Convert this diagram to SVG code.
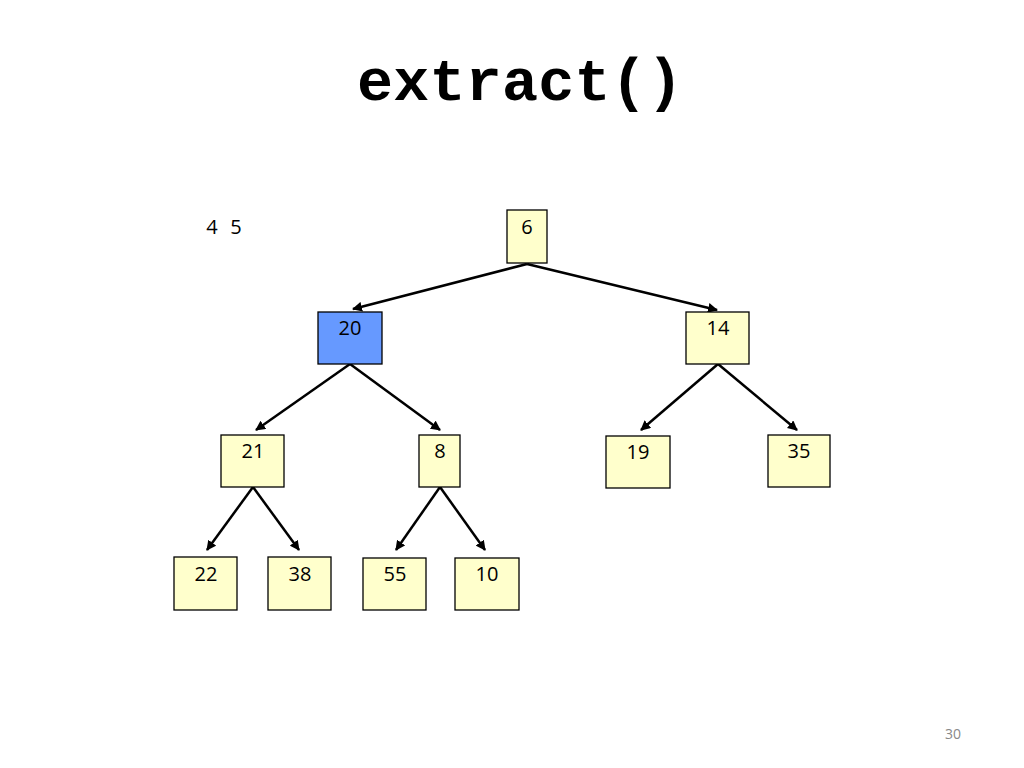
<svg xmlns="http://www.w3.org/2000/svg" width="1024" height="768" viewBox="0 0 1024 768">
<defs>
<style>
.box{fill:#FFFFCC;stroke:#000;stroke-width:1.3}
.hl{fill:#6699FF;stroke:#000;stroke-width:1.3}
.lbl{font-family:"Open Sans","Liberation Sans",sans-serif;font-size:20px;fill:#000;text-anchor:middle}
.edge{stroke:#000;stroke-width:2.5;fill:none;marker-end:url(#arr)}
</style>
<marker id="arr" viewBox="0 0 10 10" refX="9" refY="5" markerWidth="4" markerHeight="4" orient="auto" markerUnits="strokeWidth">
<path d="M0,0 L10,5 L0,10 z" fill="#000"/>
</marker>
</defs>
<rect width="1024" height="768" fill="#fff"/>
<text x="520" y="100" font-family="'Liberation Mono',monospace" font-weight="bold" font-size="60" text-anchor="middle" fill="#000" textLength="326" lengthAdjust="spacing">extract()</text>
<text x="212" y="234" class="lbl">4</text>
<text x="236" y="234" class="lbl">5</text>
<g id="connectors">
<line class="edge" x1="527" y1="264" x2="353" y2="309"/>
<line class="edge" x1="527" y1="264" x2="717" y2="310"/>
<line class="edge" x1="350" y1="364" x2="256" y2="430"/>
<line class="edge" x1="350" y1="364" x2="440" y2="430"/>
<line class="edge" x1="718" y1="364" x2="641" y2="430"/>
<line class="edge" x1="718" y1="364" x2="797" y2="430"/>
<line class="edge" x1="253" y1="487" x2="207" y2="550"/>
<line class="edge" x1="253" y1="487" x2="299" y2="550"/>
<line class="edge" x1="440" y1="487" x2="396" y2="550"/>
<line class="edge" x1="440" y1="487" x2="485" y2="550"/>
</g>
<g id="n6"><rect class="box" x="507" y="210" width="40" height="53"/><text class="lbl" x="527" y="234">6</text></g>
<g id="n20"><rect class="hl" x="318" y="312" width="64" height="52"/><text class="lbl" x="350" y="335">20</text></g>
<g id="n14"><rect class="box" x="686" y="312" width="63" height="52"/><text class="lbl" x="718" y="335">14</text></g>
<g id="n21"><rect class="box" x="221" y="435" width="63" height="52"/><text class="lbl" x="253" y="458">21</text></g>
<g id="n8"><rect class="box" x="419" y="435" width="41" height="52"/><text class="lbl" x="440" y="458">8</text></g>
<g id="n19"><rect class="box" x="606" y="436" width="64" height="52"/><text class="lbl" x="638" y="459">19</text></g>
<g id="n35"><rect class="box" x="768" y="435" width="62" height="52"/><text class="lbl" x="799" y="458">35</text></g>
<g id="n22"><rect class="box" x="174" y="557" width="63" height="53"/><text class="lbl" x="206" y="581">22</text></g>
<g id="n38"><rect class="box" x="268" y="557" width="63" height="53"/><text class="lbl" x="300" y="581">38</text></g>
<g id="n55"><rect class="box" x="363" y="558" width="63" height="52"/><text class="lbl" x="395" y="581">55</text></g>
<g id="n10"><rect class="box" x="455" y="558" width="64" height="52"/><text class="lbl" x="487" y="581">10</text></g>
<text x="953" y="739" font-family="'Open Sans','Liberation Sans',sans-serif" font-size="14" fill="#888" text-anchor="middle">30</text>
</svg>
